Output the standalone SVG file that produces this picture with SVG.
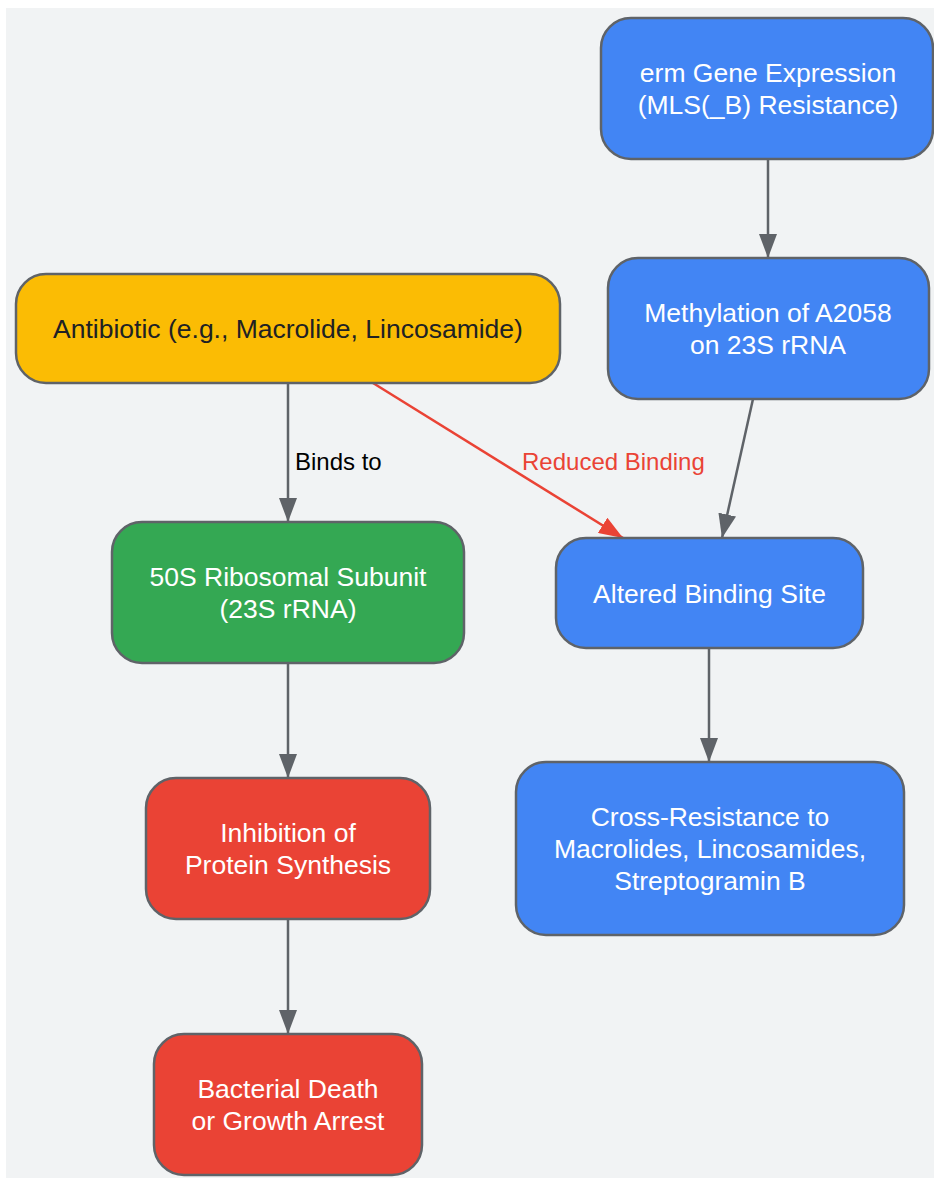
<svg xmlns="http://www.w3.org/2000/svg" width="934" height="1178" viewBox="0 0 934 1178">
  <style>
    .node rect { stroke: #5f6368; stroke-width: 2.5; }
    .blue { fill: #4285f4; }
    .green { fill: #34a853; }
    .red { fill: #ea4335; }
    .yellow { fill: #fbbc04; }
    .t { font-family: "Liberation Sans", Arial, sans-serif; font-size: 26.5px; fill: #ffffff; text-anchor: middle; }
    .dark { fill: #202124; }
    .edge { fill: none; stroke: #5f6368; stroke-width: 2.5; }
    .edge-red { fill: none; stroke: #ea4335; stroke-width: 2.5; }
    .lbl { font-family: "Liberation Sans", Arial, sans-serif; font-size: 24px; fill: #000000; }
    .lbl-red { fill: #ea4335; }
  </style>
  <defs>
    <marker id="arrow" markerUnits="userSpaceOnUse" markerWidth="24" markerHeight="18" refX="24" refY="9" orient="auto">
      <path d="M0,0 L24,9 L0,18 z" fill="#5f6368"/>
    </marker>
    <marker id="arrow-red" markerUnits="userSpaceOnUse" markerWidth="24" markerHeight="18" refX="24" refY="9" orient="auto">
      <path d="M0,0 L24,9 L0,18 z" fill="#ea4335"/>
    </marker>
  </defs>
  <rect x="6" y="8" width="928" height="1170" fill="#f1f3f4"/>

  <g id="connectors">
    <line class="edge" x1="768" y1="159" x2="768" y2="258" marker-end="url(#arrow)"/>
    <line class="edge" x1="753" y1="399" x2="722" y2="538" marker-end="url(#arrow)"/>
    <line class="edge" x1="288" y1="383" x2="288" y2="522" marker-end="url(#arrow)"/>
    <line class="edge-red" x1="373" y1="383" x2="623" y2="538" marker-end="url(#arrow-red)"/>
    <line class="edge" x1="288" y1="663" x2="288" y2="778" marker-end="url(#arrow)"/>
    <line class="edge" x1="288" y1="919" x2="288" y2="1034" marker-end="url(#arrow)"/>
    <line class="edge" x1="709" y1="648" x2="709" y2="762" marker-end="url(#arrow)"/>
    <text class="lbl" x="295" y="470">Binds to</text>
    <text class="lbl lbl-red" x="522" y="470">Reduced Binding</text>
  </g>

  <g id="erm" class="node">
    <rect class="blue" x="601" y="18" width="332" height="141" rx="30" ry="30"/>
    <text class="t" x="768" y="82">erm Gene Expression</text>
    <text class="t" x="768" y="114">(MLS(_B) Resistance)</text>
  </g>
  <g id="methylation" class="node">
    <rect class="blue" x="608" y="258" width="321" height="141" rx="30" ry="30"/>
    <text class="t" x="768" y="322">Methylation of A2058</text>
    <text class="t" x="768" y="354">on 23S rRNA</text>
  </g>
  <g id="antibiotic" class="node">
    <rect class="yellow" x="16" y="274" width="544" height="109" rx="30" ry="30"/>
    <text class="t dark" x="288" y="338">Antibiotic (e.g., Macrolide, Lincosamide)</text>
  </g>
  <g id="ribosome" class="node">
    <rect class="green" x="112" y="522" width="352" height="141" rx="30" ry="30"/>
    <text class="t" x="288" y="586">50S Ribosomal Subunit</text>
    <text class="t" x="288" y="618">(23S rRNA)</text>
  </g>
  <g id="altered" class="node">
    <rect class="blue" x="556" y="538" width="307" height="110" rx="30" ry="30"/>
    <text class="t" x="709.5" y="602.5">Altered Binding Site</text>
  </g>
  <g id="inhibition" class="node">
    <rect class="red" x="146" y="778" width="284" height="141" rx="30" ry="30"/>
    <text class="t" x="288" y="842">Inhibition of</text>
    <text class="t" x="288" y="874">Protein Synthesis</text>
  </g>
  <g id="death" class="node">
    <rect class="red" x="154" y="1034" width="268" height="141" rx="30" ry="30"/>
    <text class="t" x="288" y="1098">Bacterial Death</text>
    <text class="t" x="288" y="1130">or Growth Arrest</text>
  </g>
  <g id="cross" class="node">
    <rect class="blue" x="516" y="762" width="388" height="173" rx="30" ry="30"/>
    <text class="t" x="710" y="826">Cross-Resistance to</text>
    <text class="t" x="710" y="858">Macrolides, Lincosamides,</text>
    <text class="t" x="710" y="890">Streptogramin B</text>
  </g>
</svg>
